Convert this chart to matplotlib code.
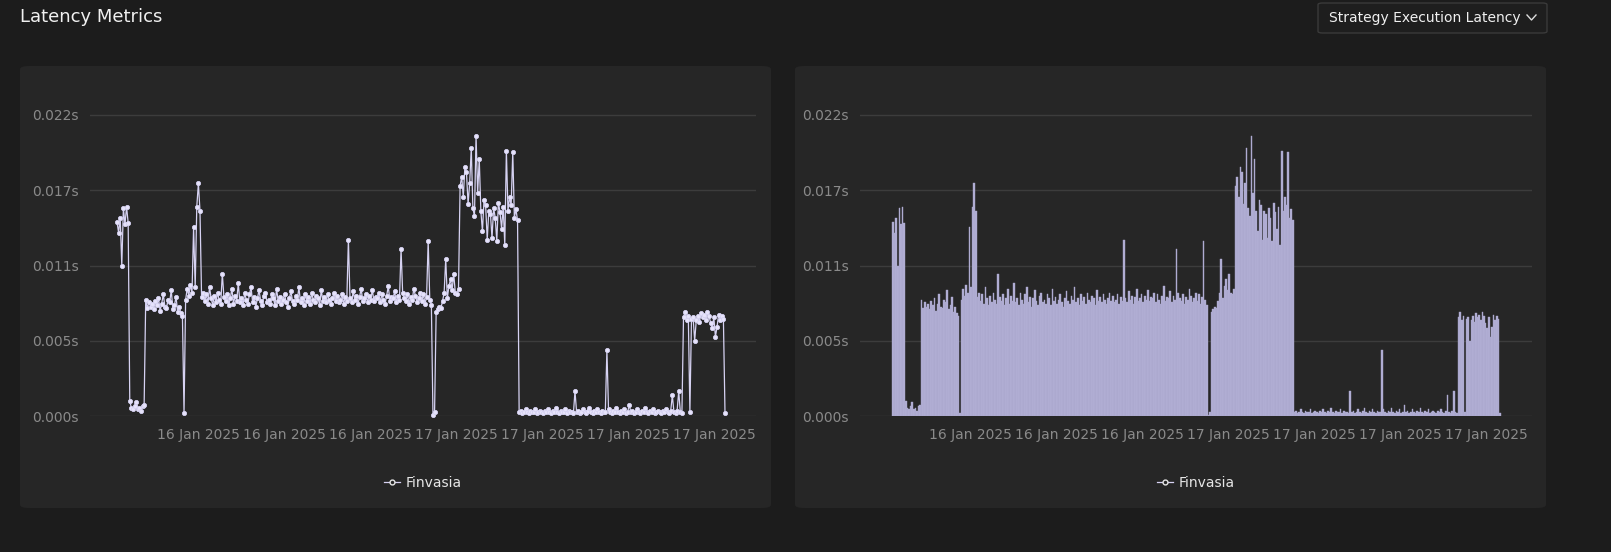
import matplotlib
matplotlib.use("Agg")
import matplotlib.pyplot as plt
from matplotlib.patches import FancyBboxPatch
import numpy as np

# latency values in milliseconds, in time order
seg_a = [14.2, 13.4, 14.5, 11.0, 15.2, 14.0, 15.3, 14.1]
seg_b = [1.1, 0.6, 0.5, 0.7, 1.0, 0.5, 0.6, 0.4, 0.7, 0.8]
seg_c = [8.5, 7.9, 8.3, 8.0, 8.2, 7.8, 8.4, 8.1, 8.6, 7.7, 8.2, 8.9, 8.0, 7.9, 8.5, 8.3,
         9.2, 7.8, 8.1, 8.7, 7.6, 8.0, 7.5, 7.3, 0.2]
seg_d = [8.5, 9.3, 8.8, 9.6, 9.0, 13.8, 9.4, 15.3, 17.0, 15.0, 8.7, 9.0]
seg_e = [8.4, 8.9, 8.2, 9.4, 8.6, 8.1, 8.8, 8.3, 9.0, 8.5, 8.2, 10.4, 8.7, 8.4, 8.9, 8.1,
         8.6, 9.3, 8.2, 8.8, 8.4, 9.7, 8.3, 8.6, 8.1, 9.0, 8.5, 8.2, 8.9, 9.4, 8.3, 8.7,
         8.0, 8.6, 9.2, 8.4, 8.1, 8.8, 9.0, 8.3, 8.5, 8.2, 8.9, 8.6, 8.1, 9.3, 8.4, 8.7,
         8.2, 8.5, 8.9, 8.3, 8.0, 8.6, 9.1, 8.4, 8.2, 8.8, 8.5, 9.4, 8.3, 8.6, 8.1, 8.9,
         8.4, 8.7, 8.2, 9.0, 8.5, 8.3, 8.8, 8.6, 8.1, 9.2, 8.4, 8.7, 8.3, 8.9, 8.5, 8.2,
         8.6, 9.0, 8.4, 8.8, 8.3, 8.5, 8.9, 8.2, 8.7, 8.4, 12.9, 8.6, 8.3, 9.1, 8.5, 8.8,
         8.2, 8.7, 9.3, 8.4, 8.6, 8.9, 8.3, 8.8, 8.5, 9.2, 8.4, 8.7, 8.6, 9.0, 8.3, 8.9,
         8.5, 8.2, 8.8, 9.5, 8.4, 8.7, 8.6, 9.1, 8.3, 8.8, 8.5, 12.2, 9.0, 8.6, 8.4, 8.9,
         8.2, 8.7, 8.5, 9.3, 8.8, 8.3, 8.6, 9.0, 8.4, 8.9, 8.2, 8.7, 12.8, 8.5, 8.1]
seg_f = [0.1, 0.3, 7.6, 7.8, 8.0, 7.9, 8.4, 9.0, 11.5, 8.6, 9.5, 10.0, 9.2, 10.4, 9.0, 8.9, 9.3]
seg_g = [16.8, 17.5, 16.0, 18.2, 17.8, 15.5, 17.0, 19.6, 15.2, 14.6, 20.5, 16.3, 18.8, 15.0,
         13.5, 15.8, 15.4, 12.9, 15.0, 14.8, 13.0, 15.2, 14.5, 12.8, 15.6, 14.9, 13.7, 15.3,
         12.5, 19.4, 15.0, 16.0, 15.4, 19.3, 14.5, 15.1, 14.3]
seg_h = [0.3, 0.4, 0.2, 0.3, 0.5, 0.3, 0.2, 0.4, 0.3, 0.3, 0.5, 0.2, 0.3, 0.4, 0.3, 0.2,
         0.4, 0.3, 0.5, 0.3, 0.2, 0.4, 0.3, 0.6, 0.3, 0.2, 0.4, 0.3, 0.3, 0.5, 0.2, 0.4,
         0.3, 0.3, 0.2, 1.8, 0.3, 0.4, 0.2, 0.3, 0.5, 0.3, 0.2, 0.4, 0.6, 0.3, 0.2, 0.4,
         0.3, 0.5, 0.3, 0.2, 0.4, 0.3, 0.3, 4.8, 0.5, 0.3, 0.2, 0.4, 0.3, 0.6, 0.3, 0.2,
         0.4, 0.3, 0.5, 0.2, 0.3, 0.8, 0.3, 0.4, 0.2, 0.3, 0.5, 0.3, 0.2, 0.4, 0.3, 0.6,
         0.3, 0.2, 0.4, 0.3, 0.5, 0.2, 0.3, 0.4, 0.3, 0.2, 0.4, 0.3, 0.5, 0.3, 0.2, 0.4,
         1.5, 0.3, 0.2, 0.4, 1.8, 0.3, 0.2]
seg_i = [7.2, 7.6, 7.0, 7.3, 0.3, 7.1, 7.2, 5.5, 7.0, 7.3, 6.9, 7.5, 7.2, 7.4, 7.0, 7.6,
         7.3, 6.8, 6.4, 7.2, 5.8, 6.5, 7.4, 7.0, 7.3, 7.1, 0.2]

tick_labels = ["16 Jan 2025"] * 3 + ["17 Jan 2025"] * 4
y_ticks = [0.0, 0.0055, 0.011, 0.0165, 0.022]
y_labels = ["0.000s", "0.005s", "0.011s", "0.017s", "0.022s"]
series_name = "Finvasia"

vals = np.array(seg_a + seg_b + seg_c + seg_d + seg_e + seg_f + seg_g + seg_h + seg_i) / 1000.0
n = len(vals)
idx = np.arange(n)

W, H = 1611, 552
fig = plt.figure(figsize=(W / 100, H / 100), dpi=100)
fig.patch.set_facecolor("#1c1c1c")

def px(x0, y0, w, h):
    return [x0 / W, 1 - (y0 + h) / H, w / W, h / H]

for x0 in (20, 795):
    fig.patches.append(FancyBboxPatch((x0 / W, 1 - 508 / H), 751 / W, 442 / H,
                                      boxstyle="round,pad=0,rounding_size=0.006",
                                      transform=fig.transFigure, facecolor="#262626",
                                      edgecolor="none", zorder=-5))

fig.text(20 / W, 1 - 17 / H, "Latency Metrics", color="#f0f0f0", fontsize=13, va="center")
fig.patches.append(FancyBboxPatch((1318 / W, 1 - 33 / H), 229 / W, 30 / H,
                                  boxstyle="round,pad=0,rounding_size=0.003",
                                  transform=fig.transFigure, facecolor="#1e1e1e",
                                  edgecolor="#3a3a3a", lw=1, zorder=-4))
fig.text(1329 / W, 1 - 18 / H, "Strategy Execution Latency", color="#f0f0f0", fontsize=10, va="center")
fig.lines.append(plt.Line2D([1527 / W, 1531.5 / W, 1536 / W],
                            [1 - 15 / H, 1 - 20 / H, 1 - 15 / H],
                            transform=fig.transFigure, color="#dddddd", lw=1))

line_c = "#d6d2f2"
bar_c = "#b3b0d6"

def setup(ax, grid_l, grid_r, d0, d1, tick_px):
    ax.set_facecolor("none")
    scale = (n - 1) / (d1 - d0)
    ax.set_xlim((grid_l - d0) * scale, (grid_r - d0) * scale)
    ax.set_ylim(0, 0.022 * 317 / 301)
    ax.set_yticks(y_ticks)
    ax.set_yticklabels(y_labels)
    ax.set_xticks([(p - d0) * scale for p in tick_px])
    ax.set_xticklabels(tick_labels)
    ax.tick_params(colors="#8a8a8a", labelsize=10, length=0, pad=8)
    ax.tick_params(axis="x", pad=9)
    ax.grid(axis="y", color="#3c3c3c", lw=1)
    ax.set_axisbelow(True)
    for s in ax.spines.values():
        s.set_visible(False)
    handle = plt.Line2D([], [], color=line_c, lw=0.9, marker="o", ms=3.5, mfc="#262626", mec="#e6e6e6")
    ax.legend(handles=[handle], labels=[series_name], loc="upper center",
              bbox_to_anchor=(0.5, -0.15), frameon=False, labelcolor="#e6e6e6",
              fontsize=10, handlelength=1.2, handletextpad=0.4)

ax1 = fig.add_axes(px(90, 99, 666, 317))
ax1.plot(idx, vals, color=line_c, lw=0.9, marker="o", ms=3, mfc="#e6e3fa", mec=line_c,
         mew=0.6, label=series_name, clip_on=False)
setup(ax1, 90, 756, 117, 725, [198, 284, 370, 456, 542, 628, 714])

ax2 = fig.add_axes(px(860, 99, 672, 317))
ax2.bar(idx, vals, width=1.0, color=bar_c, edgecolor="#a9a6cc", linewidth=0.3, label=series_name)
setup(ax2, 860, 1532, 893, 1500, [970, 1056, 1142, 1228, 1314, 1400, 1486])

fig.savefig("out.png", dpi=100, facecolor=fig.get_facecolor())
